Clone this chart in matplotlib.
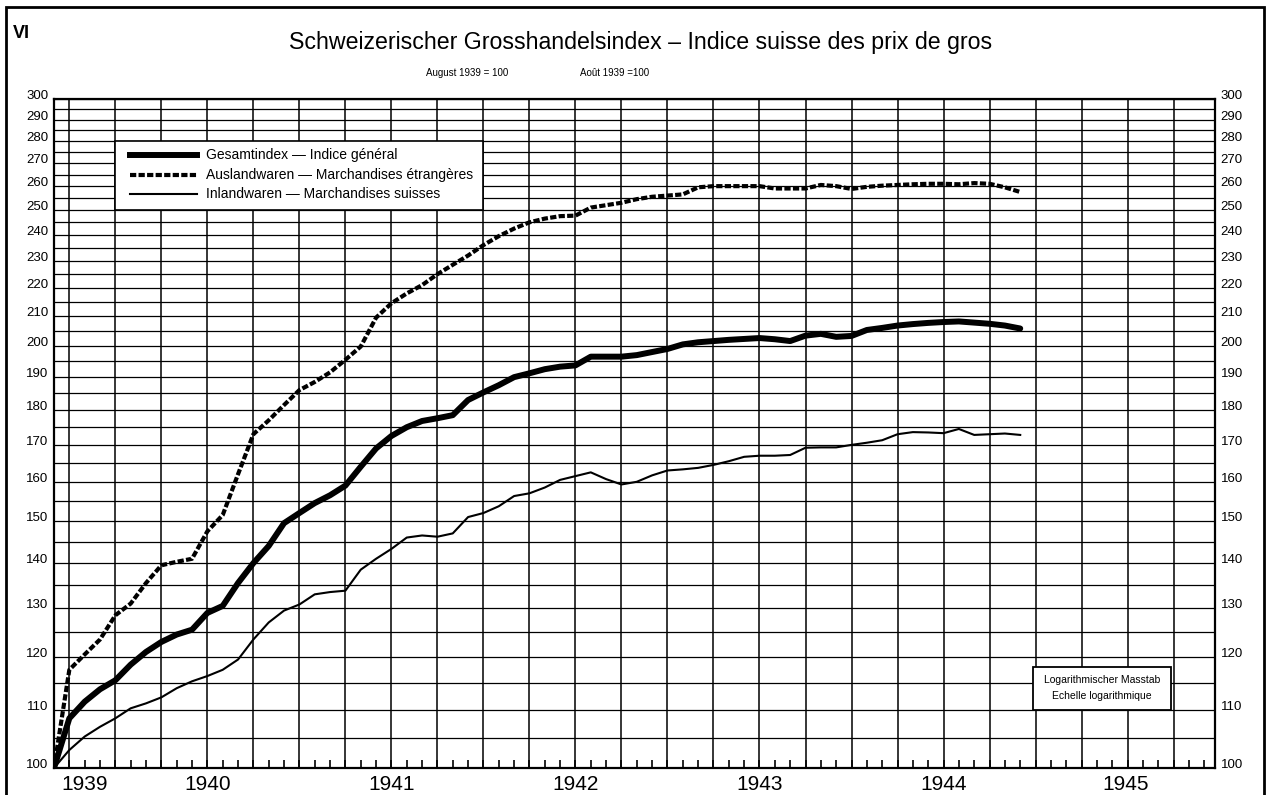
import numpy as np
import matplotlib.pyplot as plt
from matplotlib.patches import Rectangle
from matplotlib.lines import Line2D
from matplotlib.ticker import NullLocator

plt.rcParams['font.family'] = ['Liberation Sans', 'DejaVu Sans']
plt.rcParams['ytick.alignment'] = 'baseline'

W, H = 1272, 795

# Monatswerte, August 1939 = 100 (bis November 1944)
start_year = 1939 + 8 / 12
gesamt = [100, 108.5, 111.5, 113.8, 115.5, 118.5, 121, 123, 124.5, 125.5,
          129, 130.5, 135.5, 140, 144, 149.5, 152, 154.5, 156.5, 159,
          164, 169, 172.5, 175, 176.8, 177.6, 178.5, 183, 185.3, 187.5,
          190, 191.2, 192.5, 193.3, 193.7, 196.5, 196.5, 196.5, 197, 198,
          199, 200.5, 201.2, 201.6, 202, 202.3, 202.6, 202.2, 201.6, 203.4,
          204, 203, 203.3, 205.3, 206, 206.8, 207.3, 207.7, 208, 208.2,
          207.8, 207.4, 206.8, 205.8]
ausland = [100, 117.5, 120.5, 123.5, 128.5, 131, 135.5, 139.5, 140.3, 141,
           147.5, 151.5, 162, 173, 177, 181.5, 186, 188.5, 191.5, 195.5,
           199.8, 209.5, 214.5, 218, 221, 225, 228.5, 232, 236, 239.5,
           242.5, 245, 246.5, 247.5, 247.7, 251, 252, 253, 254.5, 255.5,
           256, 256.5, 259.5, 260, 260, 260, 260, 259, 259, 259,
           260.5, 260, 258.8, 259.7, 260.2, 260.5, 260.8, 261, 261, 260.8,
           261.3, 261, 259.5, 257.5]
inland = [100, 103, 105.3, 107, 108.5, 110.3, 111.2, 112.3, 114, 115.3,
          116.3, 117.5, 119.5, 123.5, 127, 129.5, 130.8, 133, 133.5, 133.8,
          138.5, 141, 143.3, 146, 146.5, 146.2, 147, 151, 152, 153.7,
          156.3, 157, 158.5, 160.5, 161.5, 162.5, 160.7, 159.3, 160, 161.7,
          163, 163.3, 163.7, 164.5, 165.5, 166.7, 167, 167, 167.2, 169.2,
          169.3, 169.3, 170, 170.6, 171.3, 173, 173.6, 173.5, 173.3, 174.5,
          172.8, 173, 173.2, 172.8]

years = [1939, 1940, 1941, 1942, 1943, 1944, 1945]
y_labels = list(range(100, 301, 10))
grid_levels = list(range(100, 301, 5))

legend_labels = ['Gesamtindex — Indice général',
                 'Auslandwaren — Marchandises étrangères',
                 'Inlandwaren — Marchandises suisses']


def fx(p):
    return p / W


def fy(p):
    return 1 - p / H


x = start_year + np.arange(len(gesamt)) / 12
x_right = 1945.975

fig = plt.figure(figsize=(W / 100, H / 100), dpi=100)
ax = fig.add_axes([fx(54), fy(768), fx(1215) - fx(54), fy(99) - fy(768)])
ax.set_yscale('log')
ax.set_ylim(100, 300)
ax.set_xlim(start_year, x_right)

# Raster
for v in grid_levels:
    ax.axhline(v, color='black', lw=0.9, zorder=1)
for q in np.arange(1939.75, 1945.76, 0.25):
    ax.axvline(q, color='black', lw=1.1, zorder=1)

ax.yaxis.set_minor_locator(NullLocator())
ax.set_yticks(y_labels)
ax.set_yticklabels([str(v) for v in y_labels])
ax.tick_params(axis='y', which='both', left=False, right=False, length=0,
               labelleft=True, labelright=True, labelsize=9.5, pad=4)

ax.set_xticks(start_year + np.arange(1, 76) / 12)
ax.tick_params(axis='x', direction='in', length=6, width=1.2,
               labelbottom=False, top=False)

for s in ax.spines.values():
    s.set_linewidth(1.6)

for yr in years:
    xc = (max(yr, start_year) + min(yr + 1, x_right)) / 2
    ax.text(xc, -0.011, str(yr), transform=ax.get_xaxis_transform(),
            ha='center', va='top', fontsize=15)

# Kurven
ax.plot(x, gesamt, color='black', lw=4.3, solid_capstyle='round',
        solid_joinstyle='round', zorder=4)
ax.plot(x, ausland, color='black', lw=3, dashes=(1.5, 0.55),
        dash_capstyle='butt', zorder=4)
ax.plot(x, inland, color='black', lw=1.5, zorder=4)

# Legende
ax.add_patch(Rectangle((1940, 250), 2, 30, facecolor='white',
                       edgecolor='black', lw=1.2, zorder=3))
styles = [dict(lw=4.3), dict(lw=3, dashes=(1.5, 0.55), dash_capstyle='butt'),
          dict(lw=1.5)]
for i, (lab, st) in enumerate(zip(legend_labels, styles)):
    yy = fy(155 + 19.5 * i)
    fig.add_artist(Line2D([fx(130), fx(197)], [yy, yy], color='black', **st))
    fig.text(fx(206), yy, lab, ha='left', va='center', fontsize=10)

# Masstab-Kasten
fig.add_artist(Rectangle((fx(1033), fy(710)), fx(1171) - fx(1033),
                         fy(667) - fy(710), transform=fig.transFigure,
                         facecolor='white', edgecolor='black', lw=1.3, zorder=5))
fig.text(fx(1102), fy(680), 'Logarithmischer Masstab', ha='center', va='center',
         fontsize=7.5, zorder=6)
fig.text(fx(1102), fy(696), 'Echelle logarithmique', ha='center', va='center',
         fontsize=7.5, zorder=6)

# Titel und Rahmen
fig.text(fx(641), fy(42), 'Schweizerischer Grosshandelsindex – Indice suisse des prix de gros',
         ha='center', va='center', fontsize=16.7)
fig.text(fx(467), fy(73), 'August 1939 = 100', ha='center', va='center', fontsize=7)
fig.text(fx(615), fy(73), 'Août 1939 =100', ha='center', va='center', fontsize=7)
fig.text(fx(13), fy(34), 'VI', ha='left', va='center', fontsize=13, fontweight='bold')
fig.add_artist(Rectangle((fx(6), fy(810)), fx(1264) - fx(6), fy(7) - fy(810),
                         transform=fig.transFigure, fill=False,
                         edgecolor='black', lw=2))

plt.savefig('out.png', dpi=100)
